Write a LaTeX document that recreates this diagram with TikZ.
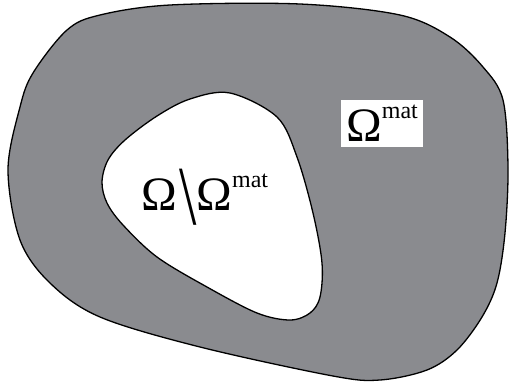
\documentclass[tikz,border=0pt]{standalone}
\usepackage{fontspec}
\setmainfont{Liberation Serif}
\usepackage{graphicx}
\definecolor{matgray}{HTML}{8A8B8F}
\newcommand{\matsup}{\raisebox{11.5pt}{\fontsize{12}{12}\selectfont mat}}

\begin{document}
\begin{tikzpicture}[
  x=0.5pt,
  y=-0.5pt,
  line join=round,
  line cap=round,
  outline/.style={draw=black,line width=0.65pt},
  matregion/.style={outline,fill=matgray},
  hole/.style={outline,fill=white},
  label/.style={inner sep=0pt,font=\fontsize{24}{26}\selectfont}
]
  \useasboundingbox (0,0) rectangle (510,387);

  % Outer boundary of the material domain, traced clockwise from the top.
  \draw[matregion] plot[smooth cycle,tension=0.55] coordinates {
    (300,4) (400,15) (450,37) (483,67) (503,100) (508,167) (505,233)
    (497,283) (482,317) (457,350) (427,370) (380,380) (333,376)
    (200,347) (100,317) (50,283) (20,240) (8,170) (20,107) (33,73)
    (67,30) (100,15) (170,5)
  };

  % The void cut out of the material.
  \draw[hole] plot[smooth cycle,tension=0.55] coordinates {
    (230,93) (277,117) (297,157) (313,213) (322,263) (320,297)
    (310,313) (290,320) (257,313) (207,287) (157,257) (123,225)
    (107,203) (102,182) (108,160) (125,140) (157,116) (190,99)
  };

  % Region labels.
  \node[label,fill=white,inner sep=2.5pt] (matlabel) at (382,123.5) {Ω\matsup};
  \node[label,anchor=base west] (voidlabel) at (141,210)
    {Ω\hspace{1pt}\raisebox{-7pt}{\scalebox{1.3}[1.75]{\textbackslash}}Ω\matsup};
\end{tikzpicture}
\end{document}
